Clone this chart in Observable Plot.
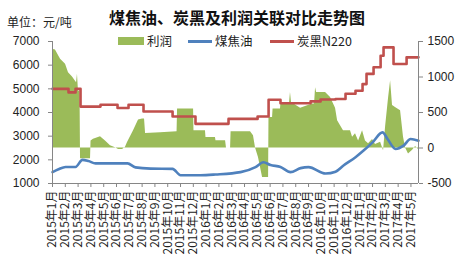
<!DOCTYPE html>
<html><head><meta charset="utf-8">
<script src="https://cdn.jsdelivr.net/npm/d3@7"></script>
<script src="https://cdn.jsdelivr.net/npm/@observablehq/plot@0.6"></script>
<style>
body{margin:0;background:#fff;}
#wrap{position:relative;width:468px;height:275px;font-family:"Noto Sans CJK SC","Liberation Sans",sans-serif;color:#222;overflow:hidden;}
#wrap svg{position:absolute;left:0;top:0;}
.t{position:absolute;white-space:nowrap;}
#title{left:0;width:474px;text-align:center;top:6px;font-size:16px;font-weight:bold;line-height:22px;color:#111;}
#unit{left:7px;top:13px;font-size:12px;line-height:18px;}
.lg{position:absolute;top:33px;font-size:12.5px;line-height:16px;}
.sw{position:absolute;}
</style></head><body>
<div id="wrap">
  <div id="chart"></div>
  <div class="t" id="unit">单位：元/吨</div>
  <div class="t" id="title">煤焦油、炭黑及利润关联对比走势图</div>
  <div class="sw" style="left:118px;top:37px;width:26px;height:8px;background:#9BBB59"></div>
  <div class="lg" style="left:147px">利润</div>
  <div class="sw" style="left:188px;top:40px;width:24px;height:3px;background:#4F81BD"></div>
  <div class="lg" style="left:215px">煤焦油</div>
  <div class="sw" style="left:270px;top:40px;width:24px;height:3px;background:#C0504D"></div>
  <div class="lg" style="left:297px">炭黑N220</div>
</div>
<script>
// Month labels (category ticks)
const monthLabels = ["2015年1月","2015年2月","2015年3月","2015年4月","2015年5月","2015年6月","2015年7月","2015年8月","2015年9月","2015年10月","2015年11月","2015年12月",
"2016年1月","2016年2月","2016年3月","2016年4月","2016年5月","2016年6月","2016年7月","2016年8月","2016年9月","2016年10月","2016年11月","2016年12月",
"2017年1月","2017年2月","2017年3月","2017年4月","2017年5月"];
const leftTicks = [1000,2000,3000,4000,5000,6000,7000];
const rightTicks = [-500,0,500,1000,1500];

// 炭黑N220 (元/吨), time in months from 2015-01
const carbonT = [0,1.25,1.80,2.19,3.75,5.08,5.94,7.11,9.38,11.17,13.75,16.02,16.88,17.81,20.16,20.94,22.11,22.89,23.67,24.22,24.53,25.08,25.63,25.86,26.64,27.66,28.59];
const carbonV = [5000,4850,5000,4250,4330,4190,4330,4040,3830,3520,3730,3830,4540,4390,4470,4550,4570,4790,4920,5200,5630,5910,6400,6750,6050,6330,6330];

// 煤焦油 (元/吨)
const tarT = [0,0.47,1.02,1.80,2.34,2.81,3.36,5.86,6.48,7.66,9.38,10.0,11.56,12.73,14.69,15.86,16.48,17.03,17.81,18.59,19.38,20.0,21.33,22.11,22.73,23.67,24.3,25.0,25.78,26.17,26.8,27.42,27.97,28.59];
const tarV = [1480,1600,1700,1700,2000,1950,1850,1850,1680,1630,1620,1350,1350,1380,1480,1690,1900,1780,1700,1480,1650,1690,1420,1500,1760,2110,2390,2740,3160,2880,2460,2600,2880,2810];

// 利润 (元/吨, right axis)
const profitT = [0,0.23,0.63,1.02,1.25,1.56,1.88,1.95,2.03,2.15,2.19,2.97,3.01,3.2,3.75,4.14,4.53,4.92,5.16,5.47,5.70,5.86,6.33,6.72,7.03,7.19,7.27,8.44,9.73,9.77,11.02,11.05,11.95,11.99,12.73,12.77,13.52,13.59,13.91,13.95,15.47,15.70,15.86,16.09,16.41,16.88,16.91,17.19,17.23,17.81,17.85,18.52,18.59,18.67,19.38,20.31,20.47,20.55,20.63,21.33,21.72,22.11,22.27,22.73,23.28,23.44,23.67,23.91,24.22,24.45,24.69,25.0,25.23,25.63,25.86,26.02,26.25,26.41,26.56,26.88,27.19,27.42,27.58,27.81,28.13,28.36,28.59];
const profitV = [1390,1380,1250,1180,1060,1000,920,1040,800,800,-150,-150,100,125,158,100,30,5,-20,-20,10,78,242,393,407,407,204,215,230,548,548,242,242,148,148,101,101,0,0,230,230,172,0,-134,-415,-415,430,430,548,548,640,640,780,640,560,620,620,850,780,780,710,560,383,242,242,150,200,100,242,100,60,120,50,80,-40,300,700,946,600,560,524,150,0,-86,-30,20,-20];

const zeroL = 2500, k = 3;             // right-axis value p -> left-axis value zeroL + k*p
const toLeft = p => zeroL + k * p;
const xMax = 28.59;

const carbon = carbonT.map((t,i)=>({t, v: carbonV[i]}));
const tar = tarT.map((t,i)=>({t, v: tarV[i]}));
const profit = profitT.map((t,i)=>({t, p: profitV[i]}));

const axisColor = "#868686";
const chart = Plot.plot({
  width: 468, height: 275,
  marginLeft: 52, marginRight: 50, marginTop: 41, marginBottom: 92,
  style: {fontFamily: '"Liberation Sans","Noto Sans CJK SC",sans-serif', fontSize: "12px", background: "transparent", color: "#222"},
  x: {domain: [0, xMax], axis: null},
  y: {domain: [1000, 7000], axis: null},
  marks: [
    Plot.areaY(profit, {x: "t", y1: () => zeroL, y2: d => toLeft(d.p), fill: "#9BBB59"}),
    Plot.line(tar, {x: "t", y: "v", stroke: "#4F81BD", strokeWidth: 2.6, curve: "monotone-x"}),
    Plot.line(carbon, {x: "t", y: "v", stroke: "#C0504D", strokeWidth: 2.6, curve: "step-after"}),
    Plot.ruleX([0], {y1: 1000, y2: 7000, stroke: axisColor}),
    Plot.ruleX([xMax], {y1: 1000, y2: 7000, stroke: axisColor}),
    Plot.ruleY([1000], {x1: 0, x2: xMax, stroke: axisColor}),
    Plot.axisY({ticks: leftTicks, anchor: "left", label: null, tickSize: 4, tickPadding: 9, tickFormat: d => String(d), stroke: axisColor, fill: "#222", fontSize: 12}),
    Plot.axisY({ticks: rightTicks.map(toLeft), anchor: "right", label: null, tickSize: 4, tickPadding: 5, tickFormat: v => String(Math.round((v - zeroL) / k)), stroke: axisColor, fill: "#222", fontSize: 12}),
    Plot.axisX({ticks: d3.range(monthLabels.length), label: null, tickFormat: i => monthLabels[i], tickRotate: -90, tickSize: 4, tickPadding: 3, stroke: axisColor, fill: "#222", fontSize: 12, fontFamily: '"Noto Sans CJK SC",sans-serif'})
  ]
});
document.getElementById("chart").appendChild(chart);
</script>
</body></html>
